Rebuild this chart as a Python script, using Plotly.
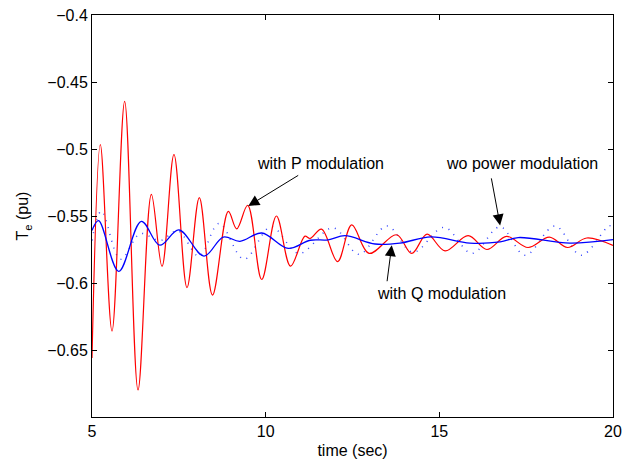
import plotly.graph_objects as go

# with P modulation (red) - extrema
t_p = [5.0, 5.24, 5.576, 5.94, 6.325, 6.71, 7.016, 7.36, 7.735, 8.09, 8.47, 8.925, 9.166,
       9.483, 9.886, 10.31, 10.716, 11.13, 11.277, 11.608, 12.07, 12.478, 12.976, 13.768,
       14.205, 14.646, 15.164, 15.83, 16.37, 16.935, 17.554, 18.167, 18.69, 19.244, 20.0]
v_p = [-0.656, -0.4968, -0.6359, -0.4644, -0.6798, -0.5339, -0.5876, -0.5041, -0.6034,
       -0.5363, -0.609, -0.5466, -0.5596, -0.542, -0.5974, -0.550, -0.5874, -0.565, -0.5668,
       -0.5598, -0.584, -0.5566, -0.5779, -0.564, -0.5779, -0.5636, -0.576, -0.5647, -0.575,
       -0.5652, -0.5735, -0.5657, -0.5735, -0.5664, -0.572]

# with Q modulation (blue solid)
t_q = [5.0, 5.19, 5.77, 6.42, 6.95, 7.5, 8.225, 8.78, 9.26, 9.886, 10.65, 11.28, 11.8,
       12.285, 13.15, 13.87, 14.76, 15.88, 16.75, 17.27, 18.76, 20.0]
v_q = [-0.5608, -0.5535, -0.5913, -0.554, -0.5718, -0.5603, -0.5799, -0.5657, -0.5689,
       -0.5627, -0.5742, -0.5681, -0.5678, -0.5647, -0.5709, -0.5702, -0.5656, -0.5702,
       -0.5693, -0.5661, -0.5702, -0.5676]

# without power modulation (blue dotted)
t_w = [5.0, 5.27, 5.82, 6.39, 6.96, 7.47, 8.08, 8.657, 9.377, 10.154, 10.96, 11.94,
       12.688, 13.494, 14.243, 15.135, 15.94, 16.748, 17.468, 18.33, 19.08, 19.886, 20.0]
v_w = [-0.5683, -0.5464, -0.5823, -0.5632, -0.5683, -0.5610, -0.580, -0.5555, -0.5823,
       -0.5581, -0.5779, -0.5588, -0.5786, -0.5574, -0.5771, -0.5585, -0.5779, -0.5581,
       -0.5793, -0.5574, -0.5793, -0.5574, -0.5581]

x_ticks = [5, 10, 15, 20]
y_ticks = [-0.65, -0.6, -0.55, -0.5, -0.45, -0.4]
y_tick_text = ["\u22120.65", "\u22120.6", "\u22120.55", "\u22120.5", "\u22120.45", "\u22120.4"]

FONT = "Liberation Sans, Arial, sans-serif"

fig = go.Figure()
fig.add_trace(go.Scatter(x=t_w, y=v_w, mode="lines",
                         line=dict(color="#3344FF", width=1.5, dash="1px,6px", shape="spline"),
                         name="wo power modulation"))
fig.add_trace(go.Scatter(x=t_p, y=v_p, mode="lines", line=dict(color="#FF0000", width=1.2, shape="spline"),
                         name="with P modulation"))
fig.add_trace(go.Scatter(x=t_q, y=v_q, mode="lines", line=dict(color="#0000FF", width=1.3, shape="spline"),
                         name="with Q modulation"))

arrows = [
    # (head_t, head_v, tail_t, tail_v)
    (9.50, -0.5425, 10.98, -0.519),
    (16.75, -0.557, 16.49, -0.5208),
    (13.63, -0.5718, 13.49, -0.5998),
]
for ht, hv, tt, tv in arrows:
    fig.add_annotation(x=ht, y=hv, ax=tt, ay=tv, xref="x", yref="y", axref="x", ayref="y",
                       text="", showarrow=True, arrowhead=2, arrowsize=2.2, arrowwidth=1,
                       arrowcolor="black", standoff=0)

labels = [
    ("with P modulation", 11.565, -0.5105),
    ("wo power modulation", 17.38, -0.5105),
    ("with Q modulation", 15.05, -0.6079),
]
for txt, lt, lv in labels:
    fig.add_annotation(x=lt, y=lv, xref="x", yref="y", text=txt, showarrow=False,
                       font=dict(family=FONT, size=16, color="black"))

fig.update_layout(
    width=638, height=464,
    margin=dict(l=92, r=25, t=7, b=47),
    plot_bgcolor="white", paper_bgcolor="white",
    showlegend=False,
    font=dict(family=FONT, size=16, color="black"),
)
fig.update_xaxes(range=[5, 20], tickvals=x_ticks, ticks="inside", ticklen=5, tickcolor="black",
                 showline=True, linecolor="black", linewidth=1, mirror="ticks", showgrid=False,
                 zeroline=False,
                 title=dict(text="time (sec)", standoff=5, font=dict(family=FONT, size=16, color="black")),
                 tickfont=dict(family=FONT, size=16, color="black"))
fig.update_yaxes(range=[-0.7, -0.4], tickvals=y_ticks, ticktext=y_tick_text, ticks="inside",
                 ticklen=5, tickcolor="black", showline=True, linecolor="black", linewidth=1,
                 mirror="ticks", showgrid=False, zeroline=False, ticklabeloverflow="allow",
                 title=dict(text="T<sub>e</sub> (pu)", standoff=14, font=dict(family=FONT, size=16, color="black")),
                 tickfont=dict(family=FONT, size=16, color="black"))

fig.write_html("out.html")
